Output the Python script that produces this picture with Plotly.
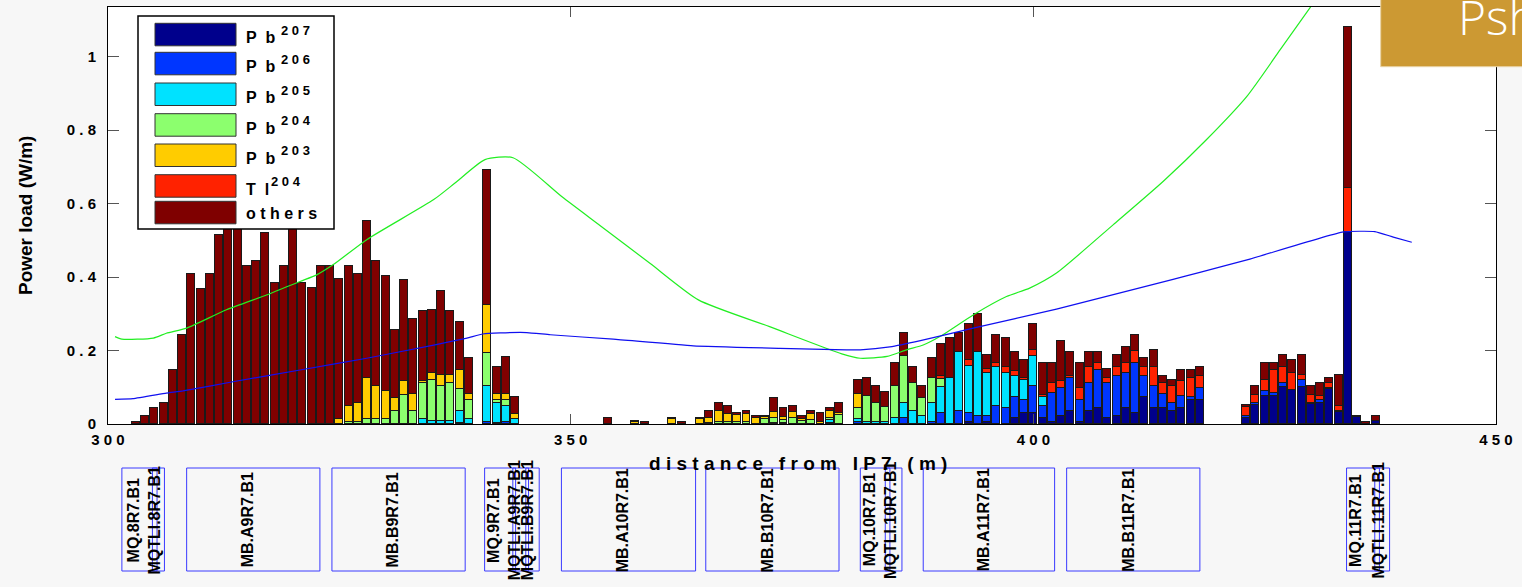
import plotly.graph_objects as go

# ---------------- data ----------------
bin_x = (list(range(303, 340)) + [341, 342, 343, 344] + [354, 357, 358, 361, 362]
         + list(range(364, 380)) + list(range(381, 419)) + list(range(423, 438)))

pb207 = ([0] * 37
         + [0, 0, 0, 0]
         + [0] * 5
         + [0] * 16
         + [0, 0, 0, 0, 0, 0, 0, 0, 0, 0, 0, 0, .006, 0, .006, 0, 0, .015, .029, .029, .015, .006, .022, .035,
            .006, .035, .043, .015, .022, .043, .029, .073, .043, .043, .035, .043, .065, .065]
         + [.017, .052, .075, .075, .102, .093, .102, .055, .058, .094, .033, .523, .018, 0, .009])

pb206 = ([0] * 35 + [.004, 0]
         + [.006, .004, .006, 0]
         + [0] * 5
         + [0] * 14 + [.004, 0]
         + [.006, 0, 0, 0, 0, .015, 0, 0, .006, .029, 0, .035, .023, .022, .016, .049, .043, .058, .036, .075,
            .034, .078, .075, .090, .059, .076, .104, .096, .110, .097, .136, .059, .061, .039, .021, .034, .008, .032]
         + [.005, .006, .016, .009, .009, 0, .018, .003, .007, .003, .003, 0, 0, 0, 0])

pb205 = ([0] * 31 + [.014, .008, .008, .008, .031, .014]
         + [.097, .052, .043, .014]
         + [0] * 5
         + [0] * 8 + [.004, .004, 0, 0, 0, 0, .006, 0]
         + [.008, .006, .006, .006, .015, .041, .035, .022, .050, .071, .125, .160, .129, .173, .118, .106, .097,
            .059, .055, .081, .024] + [0] * 17
         + [0] * 15)

pb204 = ([0] * 23 + [.006, .006, .014, .014, .014, .035, .078, .035, .098, .111, .096, .104, .061, .051]
         + [.091, .009, .016, 0]
         + [0] * 5
         + [0, .004, .006, .006, .006, .006, 0, .013, .011, .006, .015, .009, .010, 0, .006, .025]
         + [.029, .071, .050, .041, .089, .129, .076, .048, .069, .022] + [0] * 28
         + [0] * 15)

pb203 = ([0] * 22 + [.013, .043, .050, .111, .090, .075, .035, .040, .046, .006, .020, .029, .021, .051, .017]
         + [.130, .016, .016, .013]
         + [0, .006, 0, .013, 0]
         + [.013, .012, .029, .021, .019, .021, .015, .005, .019, .010, .019, .004, .017, .006, .020, .004]
         + [.038] + [0] * 37
         + [0] * 15)

tl204 = ([0] * 37
         + [0] * 4
         + [0] * 5
         + [0] * 16
         + [0] * 9 + [.010, 0, 0, .017, 0, .009, .010, .015, .011, .005, .017, .006, .027, .021, .007, .032,
                      .044, .018, .014, .024, .025, .035, .023, .052, .029, .048, .041, .052, .035]
         + [.025, .021, .029, .063, .044, .047, .014, .021, .012, .014, .013, .120, 0, 0, 0])

others = ([.006, .021, .043, .057, .148, .243, .408, .368, .408, .514, .600, .600, .431, .445, .521, .384,
           .431, .600, .384, .369, .431, .431, .382, .382, .353, .429, .341, .313, .186, .273, .205, .189,
           .172, .230, .174, .130, .099]
          + [.368, .075, .101, .046]
          + [.015, .003, .006, .003, .006]
          + [.003, .020, .021, .022, .004, .009, .007, .004, .038, .023, .015, .009, .009, .023, .007, .027]
          + [.039, .048, .048, .041, .061, .064, .044, .034, .056, .085, .110, .054, .097, .105, .039, .078,
             .080, .052, .050, .070, .086, .054, .107, .063, .068, .040, .030, .024, .032, .044, .043, .026,
             .046, .021, .016, .029, .022, .023]
          + [.005, .025, .045, .018, .032, .033, .053, .025, .034, .014, .085, .439, .004, .006, .013])

series_names = ["Pb207", "Pb206", "Pb205", "Pb204", "Pb203", "Tl204", "others"]
series_values = [pb207, pb206, pb205, pb204, pb203, tl204, others]
series_colors = ["#00008C", "#0036FF", "#00E2FF", "#8CFF6E", "#FFCC00", "#FF2200", "#7F0000"]
legend_base = ["P&nbsp;&nbsp;b", "P&nbsp;&nbsp;b", "P&nbsp;&nbsp;b", "P&nbsp;&nbsp;b", "P&nbsp;&nbsp;b",
               "T&nbsp;&nbsp;l", "o t h e r s"]
legend_sup = ["2 0 7", "2 0 6", "2 0 5", "2 0 4", "2 0 3", "2 0 4", ""]

# green and blue optics curves
green_x = [300.76, 301.5, 304.9, 306.3, 308.5, 312.8, 317.2, 320.75, 322.55, 324.35, 327.96, 335.2, 337.5,
           340.74, 343.77, 349.1, 353.2, 358.6, 363.8, 371.5, 379.3, 381.3, 384.2, 386.3, 388.1, 389.9,
           393.5, 397.1, 399.6, 402.5, 408.65, 414.05, 418.7, 423.1, 426.7, 430.0]
green_y = [0.238, 0.231, 0.234, 0.247, 0.261, 0.311, 0.352, 0.388, 0.406, 0.434, 0.502, 0.611, 0.656,
           0.720, 0.725, 0.618, 0.540, 0.437, 0.338, 0.265, 0.191, 0.179, 0.184, 0.202, 0.215, 0.238,
           0.297, 0.347, 0.370, 0.411, 0.543, 0.661, 0.774, 0.893, 1.020, 1.137]
blue_x = [300.76, 302.7, 306.3, 308.1, 313.5, 320.75, 327.96, 335.2, 338.8, 340.5, 342.4, 345.25, 347.8,
          354.6, 363.25, 372.6, 379.8, 381.3, 384.5, 387.8, 393.5, 402.5, 415.1, 418.0, 423.4, 433.5,
          436.9, 438.9, 440.9]
blue_y = [0.067, 0.069, 0.084, 0.090, 0.115, 0.147, 0.179, 0.215, 0.234, 0.245, 0.248, 0.249, 0.243,
          0.231, 0.213, 0.206, 0.202, 0.202, 0.210, 0.227, 0.261, 0.313, 0.394, 0.413, 0.449, 0.523,
          0.524, 0.509, 0.495]

# magnet layout
magnet_names = ["MQ.8R7.B1", "MQTLI.8R7.B1", "MB.A9R7.B1", "MB.B9R7.B1", "MQ.9R7.B1", "MQTLI.A9R7.B1",
                "MQTLI.B9R7.B1", "MB.A10R7.B1", "MB.B10R7.B1", "MQ.10R7.B1", "MQTLI.10R7.B1",
                "MB.A11R7.B1", "MB.B11R7.B1", "MQ.11R7.B1", "MQTLI.11R7.B1"]
magnet_start = [301.5, 304.8, 308.5, 324.2, 340.7, 343.75, 345.15, 349.0, 364.6, 381.3, 384.0,
                388.1, 403.6, 433.85, 436.9]
magnet_end = [306.1, 305.3, 322.9, 338.6, 346.6, 344.05, 345.45, 363.5, 379.0, 385.8, 384.5,
              402.3, 418.0, 438.5, 437.4]
magnet_label_x = [302.75, 304.93, 315.05, 330.74, 341.6, 343.9, 345.3, 355.58, 371.26, 382.26, 384.5,
                  394.6, 410.2, 434.75, 437.2]

x_ticks = [300, 350, 400, 450]
x_ticktext = ["3 0 0", "3 5 0", "4 0 0", "4 5 0"]
y_ticks = [0, 0.2, 0.4, 0.6, 0.8, 1.0]
y_ticktext = ["0", "0 . 2", "0 . 4", "0 . 6", "0 . 8", "1"]

for s in series_values:
    assert len(s) == len(bin_x), len(s)

# ---------------- layout geometry ----------------
W, H = 1522, 587
L, R, T, B = 108, 26, 7, 163
PW, PH = W - L - R, H - T - B


def px(p):
    return (p - L) / PW


def py(p):
    return (T + PH - p) / PH


FONT = "Liberation Sans, Arial, sans-serif"

fig = go.Figure()

for name, vals, col in zip(series_names, series_values, series_colors):
    fig.add_trace(go.Bar(
        x=bin_x, y=[v if v > 0 else None for v in vals], name=name,
        marker=dict(color=col, line=dict(color="#1a1a1a", width=1)),
        width=0.86, showlegend=False))

fig.add_trace(go.Scatter(x=green_x, y=green_y, mode="lines",
                         line=dict(color="#22EE22", width=1.2, shape="spline", smoothing=0.6),
                         showlegend=False))
fig.add_trace(go.Scatter(x=blue_x, y=blue_y, mode="lines",
                         line=dict(color="#1010F0", width=1.2, shape="spline", smoothing=0.4),
                         showlegend=False))

shapes = []
annotations = []

# magnets
for nm, a, b, lx in zip(magnet_names, magnet_start, magnet_end, magnet_label_x):
    shapes.append(dict(type="rect", xref="x", yref="paper", x0=a, x1=b, y0=py(571), y1=py(468),
                       line=dict(color="#3a3aff", width=1), fillcolor="rgba(0,0,0,0)", layer="above"))
    annotations.append(dict(xref="x", yref="paper", x=lx, y=py(520), text="<b>" + nm + "</b>",
                            textangle=-90, showarrow=False, xanchor="center", yanchor="middle",
                            font=dict(family=FONT, size=16, color="black")))

# legend box
shapes.append(dict(type="rect", xref="paper", yref="paper", x0=px(138), x1=px(334), y0=py(229), y1=py(16),
                   line=dict(color="black", width=1.5), fillcolor="white", layer="above"))
sw_tops = [23.3, 52.3, 83.0, 113.7, 144.0, 174.7, 201.3]
for top, col, base, sup in zip(sw_tops, series_colors, legend_base, legend_sup):
    shapes.append(dict(type="rect", xref="paper", yref="paper", x0=px(155), x1=px(236),
                       y0=py(top + 22.5), y1=py(top), line=dict(color="#333", width=1),
                       fillcolor=col, layer="above"))
    yc = top + 14.5 if sup else top + 12
    annotations.append(dict(xref="paper", yref="paper", x=px(244), y=py(yc),
                            text="<b>" + base + "</b>", showarrow=False, xanchor="left", yanchor="middle",
                            font=dict(family=FONT, size=16, color="black")))
    if sup:
        sx = 279 if base.startswith("P") else 269
        annotations.append(dict(xref="paper", yref="paper", x=px(sx), y=py(top + 7),
                                text="<b>" + sup + "</b>", showarrow=False, xanchor="left",
                                yanchor="middle", font=dict(family=FONT, size=13, color="black")))

# overlay box at top right
shapes.append(dict(type="rect", xref="paper", yref="paper", x0=px(1380.7), x1=px(1530), y0=py(66.7),
                   y1=py(-5), line=dict(color="#e9d3a6", width=1), fillcolor="#CC9933", layer="above"))
annotations.append(dict(xref="paper", yref="paper", x=px(1456), y=py(17), text="Psh", showarrow=False,
                        xanchor="left", yanchor="middle",
                        font=dict(family="Open Sans", size=48, color="white", weight=300)))

# axis titles
annotations.append(dict(xref="paper", yref="paper", x=px(25), y=py(216), text="<b>Power load (W/m)</b>",
                        textangle=-90, showarrow=False, xanchor="center", yanchor="middle",
                        font=dict(family=FONT, size=19, color="black")))
annotations.append(dict(xref="paper", yref="paper", x=px(798), y=py(463),
                        text="<b>d i s t a n c e&nbsp;&nbsp; f r o m&nbsp;&nbsp; I P 7&nbsp;&nbsp; ( m )</b>",
                        showarrow=False, xanchor="center", yanchor="middle",
                        font=dict(family=FONT, size=19, color="black")))

fig.update_layout(
    width=W, height=H, margin=dict(l=L, r=R, t=T, b=B, autoexpand=False),
    paper_bgcolor="#F7F7F7", plot_bgcolor="white",
    barmode="stack", bargap=0,
    shapes=shapes, annotations=annotations,
    xaxis=dict(range=[300, 450], tickvals=x_ticks, ticktext=x_ticktext, ticks="inside", ticklen=10,
               tickcolor="#555", showline=True, linecolor="black", linewidth=1, mirror="ticks",
               showgrid=False, zeroline=False, ticklabelstandoff=2,
               tickfont=dict(family=FONT, size=15, color="black", weight="bold")),
    yaxis=dict(range=[0, 1.1355], tickvals=y_ticks, ticktext=y_ticktext, ticks="inside", ticklen=11,
               tickcolor="#555", showline=True, linecolor="black", linewidth=1, mirror="ticks",
               showgrid=False, zeroline=False, ticklabelstandoff=8,
               tickfont=dict(family=FONT, size=15, color="black", weight="bold")),
)

fig.write_html("out.html", config={"displayModeBar": False},
               post_script="document.body.style.margin='0';document.body.style.overflow='hidden';")
